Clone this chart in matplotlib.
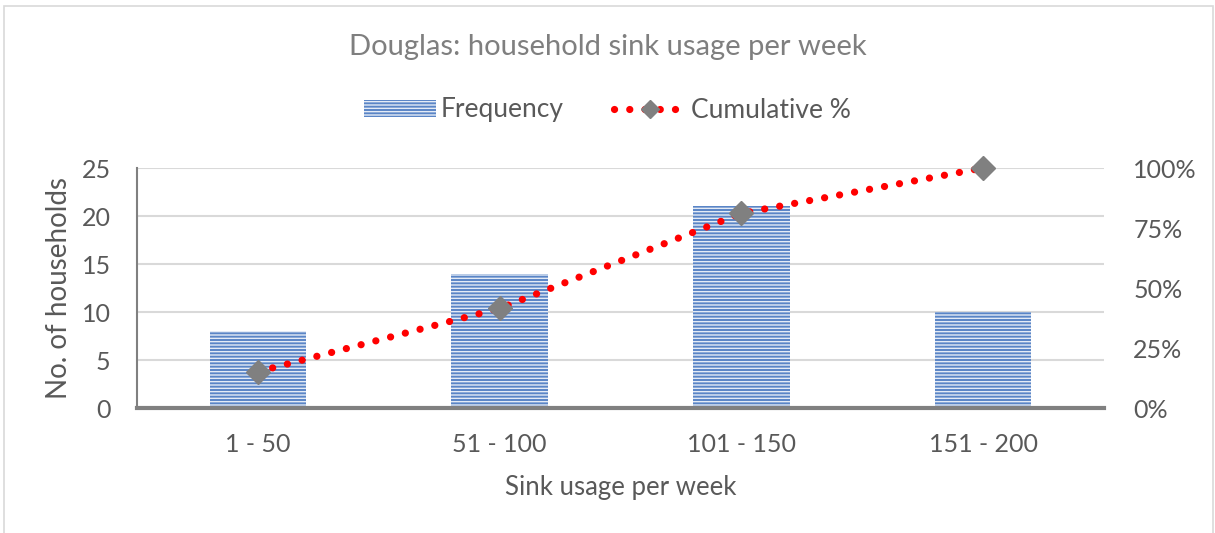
import numpy as np
import matplotlib.pyplot as plt
from matplotlib.patches import Rectangle
from matplotlib.lines import Line2D
from matplotlib.ticker import PercentFormatter

categories = ["1 - 50", "51 - 100", "101 - 150", "151 - 200"]
frequency = [8, 14, 21, 10]
cumulative_pct = [15.1, 41.5, 81.1, 100.0]

TEXT = "#595959"
GRID = "#d9d9d9"
AXIS = "#808080"

plt.rcParams["font.family"] = ["Lato", "DejaVu Sans"]
plt.rcParams["hatch.linewidth"] = 1.0

fig = plt.figure(figsize=(12.15, 5.33), dpi=100)
ax = fig.add_axes([137 / 1215, 1 - 408 / 533, (1104 - 137) / 1215, 240 / 533])

# chart border
fig.patches.append(Rectangle((4 / 1215, -0.1), (1213 - 4) / 1215, 1.1 - 6 / 533,
                             transform=fig.transFigure, fill=False,
                             edgecolor=GRID, linewidth=1.2))

x = np.arange(len(categories))
bars = ax.bar(x, frequency, width=0.4, color="#5a85c6", edgecolor="#e4ebf6",
              hatch="-----", linewidth=0, zorder=2)

ax.set_xlim(-0.5, len(categories) - 0.5)
ax.set_ylim(0, 25)
ax.set_yticks(range(0, 26, 5))
ax.grid(axis="y", color=GRID, linewidth=1.5, zorder=0)
ax.set_axisbelow(True)
for s in ["top", "right"]:
    ax.spines[s].set_visible(False)
ax.spines["left"].set_color(AXIS)
ax.spines["left"].set_linewidth(1.5)
ax.spines["bottom"].set_color(AXIS)
ax.spines["bottom"].set_linewidth(3)
ax.tick_params(axis="both", length=0, colors=TEXT, labelsize=18)
ax.tick_params(axis="y", pad=19)
ax.tick_params(axis="x", pad=18)
ax.set_xticks(x)
ax.set_xticklabels(categories)
ax.set_ylabel("No. of households", color=TEXT, fontsize=20, labelpad=7)
ax.set_xlabel("Sink usage per week", color=TEXT, fontsize=18.5, labelpad=14)

ax2 = ax.twinx()
ax2.set_ylim(0, 100)
ax2.set_yticks(range(0, 101, 25))
ax2.yaxis.set_major_formatter(PercentFormatter(decimals=0))
for s in ax2.spines.values():
    s.set_visible(False)
ax2.tick_params(axis="y", length=0, colors=TEXT, labelsize=18, pad=21)

ax2.plot(x, cumulative_pct, color="#ff0000", linewidth=5.2,
         linestyle=(0, (0.01, 2.1)), dash_capstyle="round", zorder=3,
         clip_on=False)
ax2.plot(x, cumulative_pct, linestyle="none", marker="D", markersize=12,
         color="#808080", zorder=4, clip_on=False)

fig.text(0.5, 1 - 47 / 533, "Douglas: household sink usage per week",
         ha="center", va="center", color="#7f7f7f", fontsize=21)

# legend
freq_handle = Rectangle((0, 0), 1, 1, facecolor="#5a85c6", edgecolor="#e4ebf6",
                        hatch="-----", linewidth=0)
cum_handle = Line2D([], [], color="#ff0000", linewidth=5.2,
                    linestyle=(0, (0.01, 2.1)), dash_capstyle="round",
                    marker="D", markersize=9, markerfacecolor="#808080",
                    markeredgecolor="#808080")
fig.legend([freq_handle, cum_handle], ["Frequency", "Cumulative %"],
           loc="center", bbox_to_anchor=(0.5, 1 - 110 / 533), ncol=2,
           frameon=False, fontsize=19, labelcolor=TEXT, handlelength=2.7,
           handleheight=0.6, columnspacing=1.9, handletextpad=0.2)

fig.savefig("out.png", dpi=100)
